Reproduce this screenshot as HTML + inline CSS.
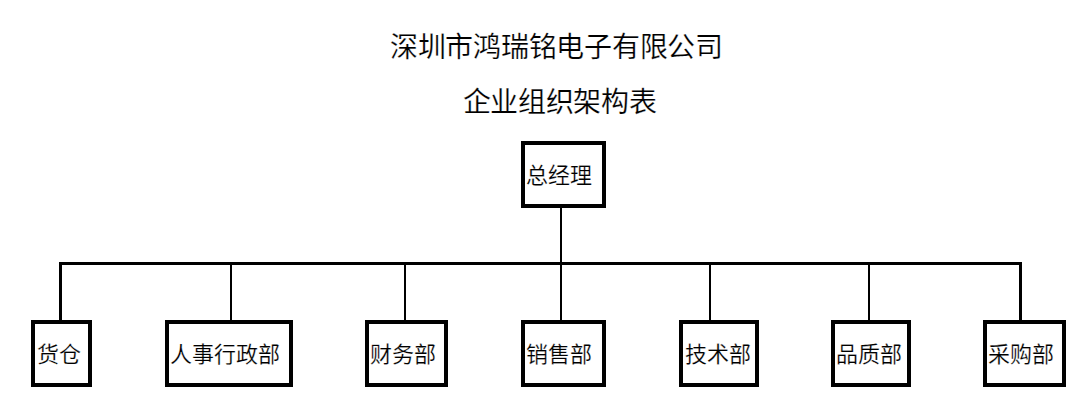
<!DOCTYPE html>
<html lang="zh-CN">
<head>
<meta charset="utf-8">
<style>
html,body{margin:0;padding:0;background:#fff;}
body{width:1073px;height:420px;position:relative;overflow:hidden;font-family:"Liberation Sans",sans-serif;color:#000;}
.t{position:absolute;white-space:nowrap;line-height:1;color:#000;-webkit-text-stroke:0.2px #fff;}
.b{position:absolute;box-sizing:border-box;border:4px solid #000;background:#fff;}
.l{position:absolute;background:#000;}
</style>
</head>
<body>
<div class="t" id="title" style="left:390px;top:34px;font-size:28px;letter-spacing:-0.27px;">深圳市鸿瑞铭电子有限公司</div>
<div class="t" id="sub" style="left:462.5px;top:88.5px;font-size:28px;letter-spacing:-0.27px;">企业组织架构表</div>

<!-- lines -->
<div class="l" style="left:560px;top:207px;width:2px;height:114px;"></div>
<div class="l" style="left:59px;top:262px;width:963px;height:3px;"></div>
<div class="l" style="left:59px;top:262px;width:3px;height:59px;"></div>
<div class="l" style="left:230px;top:262px;width:2px;height:59px;"></div>
<div class="l" style="left:404px;top:262px;width:2px;height:59px;"></div>
<div class="l" style="left:709px;top:262px;width:2px;height:59px;"></div>
<div class="l" style="left:868px;top:262px;width:2px;height:59px;"></div>
<div class="l" style="left:1019px;top:262px;width:3px;height:59px;"></div>

<!-- boxes -->
<div class="b" style="left:521px;top:141px;width:85px;height:67px;"></div>
<div class="b" style="left:31px;top:320px;width:61px;height:67px;"></div>
<div class="b" style="left:165px;top:320px;width:128px;height:67px;"></div>
<div class="b" style="left:365px;top:320px;width:83px;height:67px;"></div>
<div class="b" style="left:521px;top:320px;width:85px;height:67px;"></div>
<div class="b" style="left:679px;top:320px;width:80px;height:67px;"></div>
<div class="b" style="left:831px;top:320px;width:80px;height:67px;"></div>
<div class="b" style="left:983px;top:320px;width:83px;height:67px;"></div>

<!-- labels -->
<div class="t" style="left:526px;top:165px;font-size:22px;">总经理</div>
<div class="t" style="left:37px;top:344px;font-size:22px;">货仓</div>
<div class="t" style="left:170px;top:344px;font-size:22px;">人事行政部</div>
<div class="t" style="left:370px;top:344px;font-size:22px;">财务部</div>
<div class="t" style="left:526px;top:344px;font-size:22px;">销售部</div>
<div class="t" style="left:684.5px;top:344px;font-size:22px;">技术部</div>
<div class="t" style="left:836px;top:344px;font-size:22px;">品质部</div>
<div class="t" style="left:988px;top:344px;font-size:22px;">采购部</div>
</body>
</html>
